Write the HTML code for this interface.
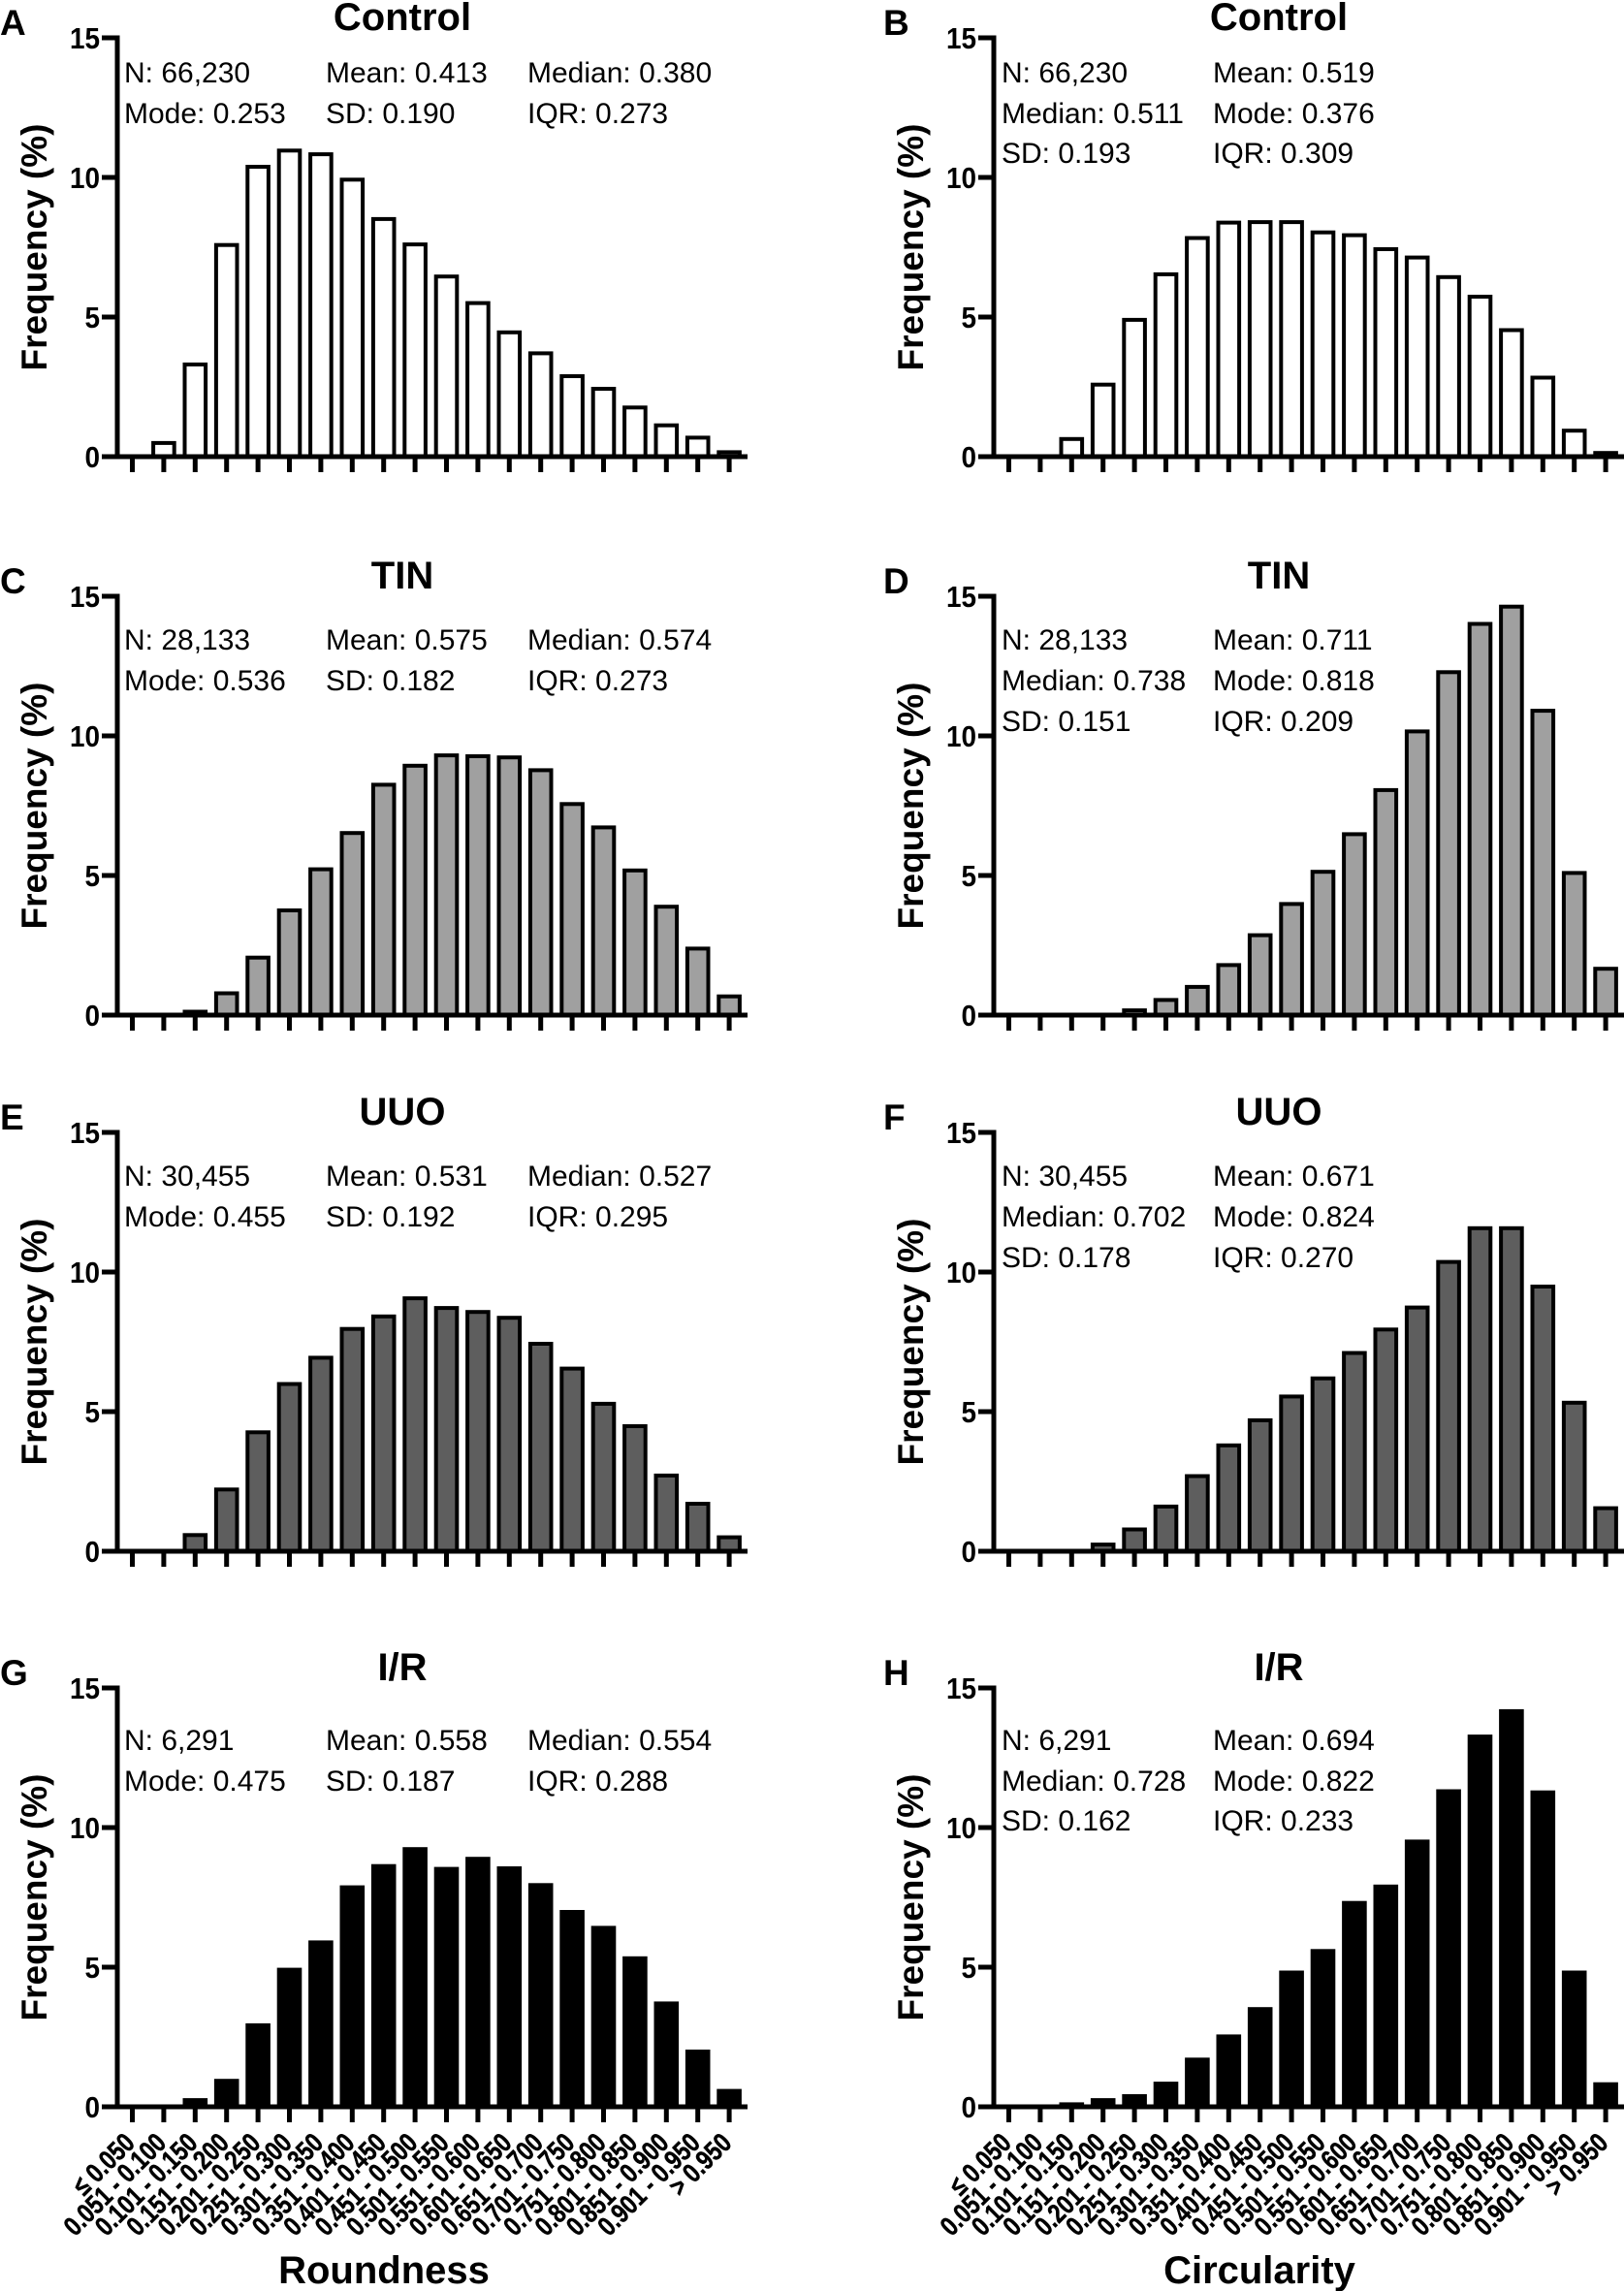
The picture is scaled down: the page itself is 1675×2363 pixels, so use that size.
<!DOCTYPE html>
<html><head><meta charset="utf-8">
<style>
html,body{margin:0;padding:0;background:#fff}
svg{display:block}
text{font-family:"Liberation Sans",Arial,Helvetica,sans-serif;fill:#000}
.s{font-size:30px}
.t{font-size:31px;font-weight:bold;text-anchor:end}
.ti{font-size:40px;font-weight:bold;text-anchor:middle}
.l{font-size:37px;font-weight:bold}
.y{font-size:37px;font-weight:bold;text-anchor:middle}
.xl{font-size:28px;font-weight:bold;text-anchor:end;stroke:#000;stroke-width:0.5px}
.o rect{stroke:#000;stroke-width:4}
</style></head>
<body>
<svg width="1675" height="2363" viewBox="0 0 1675 2363" xmlns="http://www.w3.org/2000/svg">
<rect width="1675" height="2363" fill="#fff"/>
<defs>
<g id="ax">
<path d="M0 -434.5V2.5M-2.5 0H650M-16 0H0M-16 -144H0M-16 -288H0M-16 -432H0" stroke="#000" stroke-width="5" fill="none"/>
<path transform="translate(15.5,0)" d="M0 0v16M32.4 0v16M64.8 0v16M97.2 0v16M129.6 0v16M162 0v16M194.4 0v16M226.8 0v16M259.2 0v16M291.6 0v16M324 0v16M356.4 0v16M388.8 0v16M421.2 0v16M453.6 0v16M486 0v16M518.4 0v16M550.8 0v16M583.2 0v16M615.6 0v16" stroke="#000" stroke-width="5" fill="none"/>
</g>
</defs>

<!-- ================= Panel A ================= -->
<g class="o" transform="translate(136.5,471)" fill="#fff">
<rect x="21.6" y="-14.1" width="21.6" height="14.1"/>
<rect x="54" y="-95.1" width="21.6" height="95.1"/>
<rect x="86.4" y="-218.3" width="21.6" height="218.3"/>
<rect x="118.8" y="-299" width="21.6" height="299"/>
<rect x="151.2" y="-315.7" width="21.6" height="315.7"/>
<rect x="183.6" y="-311.9" width="21.6" height="311.9"/>
<rect x="216" y="-285.7" width="21.6" height="285.7"/>
<rect x="248.4" y="-245.1" width="21.6" height="245.1"/>
<rect x="280.8" y="-218.9" width="21.6" height="218.9"/>
<rect x="313.2" y="-185.8" width="21.6" height="185.8"/>
<rect x="345.6" y="-158.4" width="21.6" height="158.4"/>
<rect x="378" y="-128.2" width="21.6" height="128.2"/>
<rect x="410.4" y="-106.6" width="21.6" height="106.6"/>
<rect x="442.8" y="-83" width="21.6" height="83"/>
<rect x="475.2" y="-70" width="21.6" height="70"/>
<rect x="507.6" y="-50.7" width="21.6" height="50.7"/>
<rect x="540" y="-32.3" width="21.6" height="32.3"/>
<rect x="572.4" y="-19.6" width="21.6" height="19.6"/>
<rect x="604.8" y="-4.6" width="21.6" height="4.6"/>
</g>
<use href="#ax" x="121" y="471"/>
<text class="t" transform="translate(103,482) scale(0.9,1)">0</text>
<text class="t" transform="translate(103,338) scale(0.9,1)">5</text>
<text class="t" transform="translate(103,194) scale(0.9,1)">10</text>
<text class="t" transform="translate(103,50) scale(0.9,1)">15</text>
<text class="l" x="0" y="36">A</text>
<text class="ti" x="415" y="31">Control</text>
<text class="y" transform="translate(48,255) rotate(-90)">Frequency (%)</text>
<text class="s" x="128" y="85">N: 66,230</text>
<text class="s" x="336" y="85">Mean: 0.413</text>
<text class="s" x="544" y="85">Median: 0.380</text>
<text class="s" x="128" y="127">Mode: 0.253</text>
<text class="s" x="336" y="127">SD: 0.190</text>
<text class="s" x="544" y="127">IQR: 0.273</text>

<!-- ================= Panel B ================= -->
<g class="o" transform="translate(1040.5,471)" fill="#fff">
<rect x="21.6" y="-0.5" width="21.6" height="0.5"/>
<rect x="54" y="-18.2" width="21.6" height="18.2"/>
<rect x="86.4" y="-74.3" width="21.6" height="74.3"/>
<rect x="118.8" y="-141.1" width="21.6" height="141.1"/>
<rect x="151.2" y="-188.1" width="21.6" height="188.1"/>
<rect x="183.6" y="-225.5" width="21.6" height="225.5"/>
<rect x="216" y="-241.4" width="21.6" height="241.4"/>
<rect x="248.4" y="-241.9" width="21.6" height="241.9"/>
<rect x="280.8" y="-241.9" width="21.6" height="241.9"/>
<rect x="313.2" y="-231.3" width="21.6" height="231.3"/>
<rect x="345.6" y="-228.4" width="21.6" height="228.4"/>
<rect x="378" y="-214" width="21.6" height="214"/>
<rect x="410.4" y="-205.4" width="21.6" height="205.4"/>
<rect x="442.8" y="-185.2" width="21.6" height="185.2"/>
<rect x="475.2" y="-165" width="21.6" height="165"/>
<rect x="507.6" y="-130.5" width="21.6" height="130.5"/>
<rect x="540" y="-81.5" width="21.6" height="81.5"/>
<rect x="572.4" y="-26.8" width="21.6" height="26.8"/>
<rect x="604.8" y="-3.8" width="21.6" height="3.8"/>
</g>
<use href="#ax" x="1025" y="471"/>
<text class="t" transform="translate(1007,482) scale(0.9,1)">0</text>
<text class="t" transform="translate(1007,338) scale(0.9,1)">5</text>
<text class="t" transform="translate(1007,194) scale(0.9,1)">10</text>
<text class="t" transform="translate(1007,50) scale(0.9,1)">15</text>
<text class="l" x="911" y="36">B</text>
<text class="ti" x="1319" y="31">Control</text>
<text class="y" transform="translate(952,255) rotate(-90)">Frequency (%)</text>
<text class="s" x="1033" y="85">N: 66,230</text>
<text class="s" x="1251" y="85">Mean: 0.519</text>
<text class="s" x="1033" y="127">Median: 0.511</text>
<text class="s" x="1251" y="127">Mode: 0.376</text>
<text class="s" x="1033" y="168">SD: 0.193</text>
<text class="s" x="1251" y="168">IQR: 0.309</text>

<!-- ================= Panel C ================= -->
<g class="o" transform="translate(136.5,1047)" fill="#a0a0a0">
<rect x="54" y="-3.5" width="21.6" height="3.5"/>
<rect x="86.4" y="-22.5" width="21.6" height="22.5"/>
<rect x="118.8" y="-59.3" width="21.6" height="59.3"/>
<rect x="151.2" y="-108" width="21.6" height="108"/>
<rect x="183.6" y="-150.4" width="21.6" height="150.4"/>
<rect x="216" y="-187.8" width="21.6" height="187.8"/>
<rect x="248.4" y="-237.6" width="21.6" height="237.6"/>
<rect x="280.8" y="-257.2" width="21.6" height="257.2"/>
<rect x="313.2" y="-267.9" width="21.6" height="267.9"/>
<rect x="345.6" y="-267" width="21.6" height="267"/>
<rect x="378" y="-265.8" width="21.6" height="265.8"/>
<rect x="410.4" y="-252.6" width="21.6" height="252.6"/>
<rect x="442.8" y="-217.7" width="21.6" height="217.7"/>
<rect x="475.2" y="-193.6" width="21.6" height="193.6"/>
<rect x="507.6" y="-149.2" width="21.6" height="149.2"/>
<rect x="540" y="-111.8" width="21.6" height="111.8"/>
<rect x="572.4" y="-68.6" width="21.6" height="68.6"/>
<rect x="604.8" y="-19.3" width="21.6" height="19.3"/>
</g>
<use href="#ax" x="121" y="1047"/>
<text class="t" transform="translate(103,1058) scale(0.9,1)">0</text>
<text class="t" transform="translate(103,914) scale(0.9,1)">5</text>
<text class="t" transform="translate(103,770) scale(0.9,1)">10</text>
<text class="t" transform="translate(103,626) scale(0.9,1)">15</text>
<text class="l" x="0" y="612">C</text>
<text class="ti" x="415" y="607">TIN</text>
<text class="y" transform="translate(48,831) rotate(-90)">Frequency (%)</text>
<text class="s" x="128" y="670">N: 28,133</text>
<text class="s" x="336" y="670">Mean: 0.575</text>
<text class="s" x="544" y="670">Median: 0.574</text>
<text class="s" x="128" y="712">Mode: 0.536</text>
<text class="s" x="336" y="712">SD: 0.182</text>
<text class="s" x="544" y="712">IQR: 0.273</text>

<!-- ================= Panel D ================= -->
<g class="o" transform="translate(1040.5,1047)" fill="#a0a0a0">
<rect x="86.4" y="-0.5" width="21.6" height="0.5"/>
<rect x="118.8" y="-4.9" width="21.6" height="4.9"/>
<rect x="151.2" y="-15.6" width="21.6" height="15.6"/>
<rect x="183.6" y="-29.1" width="21.6" height="29.1"/>
<rect x="216" y="-51.6" width="21.6" height="51.6"/>
<rect x="248.4" y="-82.4" width="21.6" height="82.4"/>
<rect x="280.8" y="-114.6" width="21.6" height="114.6"/>
<rect x="313.2" y="-147.8" width="21.6" height="147.8"/>
<rect x="345.6" y="-186.6" width="21.6" height="186.6"/>
<rect x="378" y="-232.1" width="21.6" height="232.1"/>
<rect x="410.4" y="-292.6" width="21.6" height="292.6"/>
<rect x="442.8" y="-353.7" width="21.6" height="353.7"/>
<rect x="475.2" y="-403.5" width="21.6" height="403.5"/>
<rect x="507.6" y="-421.3" width="21.6" height="421.3"/>
<rect x="540" y="-313.9" width="21.6" height="313.9"/>
<rect x="572.4" y="-146.6" width="21.6" height="146.6"/>
<rect x="604.8" y="-47.8" width="21.6" height="47.8"/>
</g>
<use href="#ax" x="1025" y="1047"/>
<text class="t" transform="translate(1007,1058) scale(0.9,1)">0</text>
<text class="t" transform="translate(1007,914) scale(0.9,1)">5</text>
<text class="t" transform="translate(1007,770) scale(0.9,1)">10</text>
<text class="t" transform="translate(1007,626) scale(0.9,1)">15</text>
<text class="l" x="911" y="612">D</text>
<text class="ti" x="1319" y="607">TIN</text>
<text class="y" transform="translate(952,831) rotate(-90)">Frequency (%)</text>
<text class="s" x="1033" y="670">N: 28,133</text>
<text class="s" x="1251" y="670">Mean: 0.711</text>
<text class="s" x="1033" y="712">Median: 0.738</text>
<text class="s" x="1251" y="712">Mode: 0.818</text>
<text class="s" x="1033" y="754">SD: 0.151</text>
<text class="s" x="1251" y="754">IQR: 0.209</text>

<!-- ================= Panel E ================= -->
<g class="o" transform="translate(136.5,1600)" fill="#5e5e5e">
<rect x="21.6" y="-0.5" width="21.6" height="0.5"/>
<rect x="54" y="-16.7" width="21.6" height="16.7"/>
<rect x="86.4" y="-63.7" width="21.6" height="63.7"/>
<rect x="118.8" y="-122.7" width="21.6" height="122.7"/>
<rect x="151.2" y="-172.5" width="21.6" height="172.5"/>
<rect x="183.6" y="-199.6" width="21.6" height="199.6"/>
<rect x="216" y="-229.3" width="21.6" height="229.3"/>
<rect x="248.4" y="-242.2" width="21.6" height="242.2"/>
<rect x="280.8" y="-260.9" width="21.6" height="260.9"/>
<rect x="313.2" y="-250.9" width="21.6" height="250.9"/>
<rect x="345.6" y="-246.8" width="21.6" height="246.8"/>
<rect x="378" y="-240.8" width="21.6" height="240.8"/>
<rect x="410.4" y="-214" width="21.6" height="214"/>
<rect x="442.8" y="-188.4" width="21.6" height="188.4"/>
<rect x="475.2" y="-152.1" width="21.6" height="152.1"/>
<rect x="507.6" y="-129" width="21.6" height="129"/>
<rect x="540" y="-78.1" width="21.6" height="78.1"/>
<rect x="572.4" y="-49" width="21.6" height="49"/>
<rect x="604.8" y="-14.4" width="21.6" height="14.4"/>
</g>
<use href="#ax" x="121" y="1600"/>
<text class="t" transform="translate(103,1611) scale(0.9,1)">0</text>
<text class="t" transform="translate(103,1467) scale(0.9,1)">5</text>
<text class="t" transform="translate(103,1323) scale(0.9,1)">10</text>
<text class="t" transform="translate(103,1179) scale(0.9,1)">15</text>
<text class="l" x="0" y="1165">E</text>
<text class="ti" x="415" y="1160">UUO</text>
<text class="y" transform="translate(48,1384) rotate(-90)">Frequency (%)</text>
<text class="s" x="128" y="1223">N: 30,455</text>
<text class="s" x="336" y="1223">Mean: 0.531</text>
<text class="s" x="544" y="1223">Median: 0.527</text>
<text class="s" x="128" y="1265">Mode: 0.455</text>
<text class="s" x="336" y="1265">SD: 0.192</text>
<text class="s" x="544" y="1265">IQR: 0.295</text>

<!-- ================= Panel F ================= -->
<g class="o" transform="translate(1040.5,1600)" fill="#5e5e5e">
<rect x="54" y="-0.5" width="21.6" height="0.5"/>
<rect x="86.4" y="-6.9" width="21.6" height="6.9"/>
<rect x="118.8" y="-22.5" width="21.6" height="22.5"/>
<rect x="151.2" y="-46.1" width="21.6" height="46.1"/>
<rect x="183.6" y="-77.5" width="21.6" height="77.5"/>
<rect x="216" y="-109.2" width="21.6" height="109.2"/>
<rect x="248.4" y="-135.1" width="21.6" height="135.1"/>
<rect x="280.8" y="-159.6" width="21.6" height="159.6"/>
<rect x="313.2" y="-178.3" width="21.6" height="178.3"/>
<rect x="345.6" y="-204.5" width="21.6" height="204.5"/>
<rect x="378" y="-228.7" width="21.6" height="228.7"/>
<rect x="410.4" y="-251.4" width="21.6" height="251.4"/>
<rect x="442.8" y="-298.4" width="21.6" height="298.4"/>
<rect x="475.2" y="-333.2" width="21.6" height="333.2"/>
<rect x="507.6" y="-333.2" width="21.6" height="333.2"/>
<rect x="540" y="-273" width="21.6" height="273"/>
<rect x="572.4" y="-153.2" width="21.6" height="153.2"/>
<rect x="604.8" y="-44.4" width="21.6" height="44.4"/>
</g>
<use href="#ax" x="1025" y="1600"/>
<text class="t" transform="translate(1007,1611) scale(0.9,1)">0</text>
<text class="t" transform="translate(1007,1467) scale(0.9,1)">5</text>
<text class="t" transform="translate(1007,1323) scale(0.9,1)">10</text>
<text class="t" transform="translate(1007,1179) scale(0.9,1)">15</text>
<text class="l" x="911" y="1165">F</text>
<text class="ti" x="1319" y="1160">UUO</text>
<text class="y" transform="translate(952,1384) rotate(-90)">Frequency (%)</text>
<text class="s" x="1033" y="1223">N: 30,455</text>
<text class="s" x="1251" y="1223">Mean: 0.671</text>
<text class="s" x="1033" y="1265">Median: 0.702</text>
<text class="s" x="1251" y="1265">Mode: 0.824</text>
<text class="s" x="1033" y="1307">SD: 0.178</text>
<text class="s" x="1251" y="1307">IQR: 0.270</text>

<!-- ================= Panel G ================= -->
<g transform="translate(136.5,2173)" fill="#000">
<rect x="52" y="-8.9" width="25.6" height="8.9"/>
<rect x="84.4" y="-28.8" width="25.6" height="28.8"/>
<rect x="116.8" y="-86.1" width="25.6" height="86.1"/>
<rect x="149.2" y="-143.4" width="25.6" height="143.4"/>
<rect x="181.6" y="-171.6" width="25.6" height="171.6"/>
<rect x="214" y="-228.4" width="25.6" height="228.4"/>
<rect x="246.4" y="-250.3" width="25.6" height="250.3"/>
<rect x="278.8" y="-267.8" width="25.6" height="267.8"/>
<rect x="311.2" y="-247.4" width="25.6" height="247.4"/>
<rect x="343.6" y="-257.8" width="25.6" height="257.8"/>
<rect x="376" y="-248" width="25.6" height="248"/>
<rect x="408.4" y="-230.7" width="25.6" height="230.7"/>
<rect x="440.8" y="-203" width="25.6" height="203"/>
<rect x="473.2" y="-186.6" width="25.6" height="186.6"/>
<rect x="505.6" y="-155.2" width="25.6" height="155.2"/>
<rect x="538" y="-108.6" width="25.6" height="108.6"/>
<rect x="570.4" y="-59" width="25.6" height="59"/>
<rect x="602.8" y="-18.4" width="25.6" height="18.4"/>
</g>
<use href="#ax" x="121" y="2173"/>
<text class="t" transform="translate(103,2184) scale(0.9,1)">0</text>
<text class="t" transform="translate(103,2040) scale(0.9,1)">5</text>
<text class="t" transform="translate(103,1896) scale(0.9,1)">10</text>
<text class="t" transform="translate(103,1752) scale(0.9,1)">15</text>
<text class="l" x="0" y="1738">G</text>
<text class="ti" x="415" y="1733">I/R</text>
<text class="y" transform="translate(48,1957) rotate(-90)">Frequency (%)</text>
<text class="s" x="128" y="1805">N: 6,291</text>
<text class="s" x="336" y="1805">Mean: 0.558</text>
<text class="s" x="544" y="1805">Median: 0.554</text>
<text class="s" x="128" y="1847">Mode: 0.475</text>
<text class="s" x="336" y="1847">SD: 0.187</text>
<text class="s" x="544" y="1847">IQR: 0.288</text>

<text class="xl" transform="translate(140.5,2212) rotate(-45) scale(0.82,1)">≤ 0.050</text>
<text class="xl" transform="translate(172.9,2212) rotate(-45) scale(0.82,1)">0.051 - 0.100</text>
<text class="xl" transform="translate(205.3,2212) rotate(-45) scale(0.82,1)">0.101 - 0.150</text>
<text class="xl" transform="translate(237.7,2212) rotate(-45) scale(0.82,1)">0.151 - 0.200</text>
<text class="xl" transform="translate(270.1,2212) rotate(-45) scale(0.82,1)">0.201 - 0.250</text>
<text class="xl" transform="translate(302.5,2212) rotate(-45) scale(0.82,1)">0.251 - 0.300</text>
<text class="xl" transform="translate(334.9,2212) rotate(-45) scale(0.82,1)">0.301 - 0.350</text>
<text class="xl" transform="translate(367.3,2212) rotate(-45) scale(0.82,1)">0.351 - 0.400</text>
<text class="xl" transform="translate(399.7,2212) rotate(-45) scale(0.82,1)">0.401 - 0.450</text>
<text class="xl" transform="translate(432.1,2212) rotate(-45) scale(0.82,1)">0.451 - 0.500</text>
<text class="xl" transform="translate(464.5,2212) rotate(-45) scale(0.82,1)">0.501 - 0.550</text>
<text class="xl" transform="translate(496.9,2212) rotate(-45) scale(0.82,1)">0.551 - 0.600</text>
<text class="xl" transform="translate(529.3,2212) rotate(-45) scale(0.82,1)">0.601 - 0.650</text>
<text class="xl" transform="translate(561.7,2212) rotate(-45) scale(0.82,1)">0.651 - 0.700</text>
<text class="xl" transform="translate(594.1,2212) rotate(-45) scale(0.82,1)">0.701 - 0.750</text>
<text class="xl" transform="translate(626.5,2212) rotate(-45) scale(0.82,1)">0.751 - 0.800</text>
<text class="xl" transform="translate(658.9,2212) rotate(-45) scale(0.82,1)">0.801 - 0.850</text>
<text class="xl" transform="translate(691.3,2212) rotate(-45) scale(0.82,1)">0.851 - 0.900</text>
<text class="xl" transform="translate(723.7,2212) rotate(-45) scale(0.82,1)">0.901 - 0.950</text>
<text class="xl" transform="translate(756.1,2212) rotate(-45) scale(0.82,1)">&gt; 0.950</text>
<text class="ti" x="396" y="2355">Roundness</text>

<!-- ================= Panel H ================= -->
<g transform="translate(1040.5,2173)" fill="#000">
<rect x="52" y="-4.6" width="25.6" height="4.6"/>
<rect x="84.4" y="-8.9" width="25.6" height="8.9"/>
<rect x="116.8" y="-13" width="25.6" height="13"/>
<rect x="149.2" y="-25.9" width="25.6" height="25.9"/>
<rect x="181.6" y="-50.7" width="25.6" height="50.7"/>
<rect x="214" y="-74.6" width="25.6" height="74.6"/>
<rect x="246.4" y="-102.8" width="25.6" height="102.8"/>
<rect x="278.8" y="-140.5" width="25.6" height="140.5"/>
<rect x="311.2" y="-162.7" width="25.6" height="162.7"/>
<rect x="343.6" y="-212.3" width="25.6" height="212.3"/>
<rect x="376" y="-229.2" width="25.6" height="229.2"/>
<rect x="408.4" y="-275.6" width="25.6" height="275.6"/>
<rect x="440.8" y="-327.5" width="25.6" height="327.5"/>
<rect x="473.2" y="-383.9" width="25.6" height="383.9"/>
<rect x="505.6" y="-410.1" width="25.6" height="410.1"/>
<rect x="538" y="-326.3" width="25.6" height="326.3"/>
<rect x="570.4" y="-140.5" width="25.6" height="140.5"/>
<rect x="602.8" y="-25.3" width="25.6" height="25.3"/>
</g>
<use href="#ax" x="1025" y="2173"/>
<text class="t" transform="translate(1007,2184) scale(0.9,1)">0</text>
<text class="t" transform="translate(1007,2040) scale(0.9,1)">5</text>
<text class="t" transform="translate(1007,1896) scale(0.9,1)">10</text>
<text class="t" transform="translate(1007,1752) scale(0.9,1)">15</text>
<text class="l" x="911" y="1738">H</text>
<text class="ti" x="1319" y="1733">I/R</text>
<text class="y" transform="translate(952,1957) rotate(-90)">Frequency (%)</text>
<text class="s" x="1033" y="1805">N: 6,291</text>
<text class="s" x="1251" y="1805">Mean: 0.694</text>
<text class="s" x="1033" y="1847">Median: 0.728</text>
<text class="s" x="1251" y="1847">Mode: 0.822</text>
<text class="s" x="1033" y="1888">SD: 0.162</text>
<text class="s" x="1251" y="1888">IQR: 0.233</text>

<text class="xl" transform="translate(1044.5,2212) rotate(-45) scale(0.82,1)">≤ 0.050</text>
<text class="xl" transform="translate(1076.9,2212) rotate(-45) scale(0.82,1)">0.051 - 0.100</text>
<text class="xl" transform="translate(1109.3,2212) rotate(-45) scale(0.82,1)">0.101 - 0.150</text>
<text class="xl" transform="translate(1141.7,2212) rotate(-45) scale(0.82,1)">0.151 - 0.200</text>
<text class="xl" transform="translate(1174.1,2212) rotate(-45) scale(0.82,1)">0.201 - 0.250</text>
<text class="xl" transform="translate(1206.5,2212) rotate(-45) scale(0.82,1)">0.251 - 0.300</text>
<text class="xl" transform="translate(1238.9,2212) rotate(-45) scale(0.82,1)">0.301 - 0.350</text>
<text class="xl" transform="translate(1271.3,2212) rotate(-45) scale(0.82,1)">0.351 - 0.400</text>
<text class="xl" transform="translate(1303.7,2212) rotate(-45) scale(0.82,1)">0.401 - 0.450</text>
<text class="xl" transform="translate(1336.1,2212) rotate(-45) scale(0.82,1)">0.451 - 0.500</text>
<text class="xl" transform="translate(1368.5,2212) rotate(-45) scale(0.82,1)">0.501 - 0.550</text>
<text class="xl" transform="translate(1400.9,2212) rotate(-45) scale(0.82,1)">0.551 - 0.600</text>
<text class="xl" transform="translate(1433.3,2212) rotate(-45) scale(0.82,1)">0.601 - 0.650</text>
<text class="xl" transform="translate(1465.7,2212) rotate(-45) scale(0.82,1)">0.651 - 0.700</text>
<text class="xl" transform="translate(1498.1,2212) rotate(-45) scale(0.82,1)">0.701 - 0.750</text>
<text class="xl" transform="translate(1530.5,2212) rotate(-45) scale(0.82,1)">0.751 - 0.800</text>
<text class="xl" transform="translate(1562.9,2212) rotate(-45) scale(0.82,1)">0.801 - 0.850</text>
<text class="xl" transform="translate(1595.3,2212) rotate(-45) scale(0.82,1)">0.851 - 0.900</text>
<text class="xl" transform="translate(1627.7,2212) rotate(-45) scale(0.82,1)">0.901 - 0.950</text>
<text class="xl" transform="translate(1660.1,2212) rotate(-45) scale(0.82,1)">&gt; 0.950</text>
<text class="ti" x="1299" y="2355">Circularity</text>
</svg>
</body></html>
